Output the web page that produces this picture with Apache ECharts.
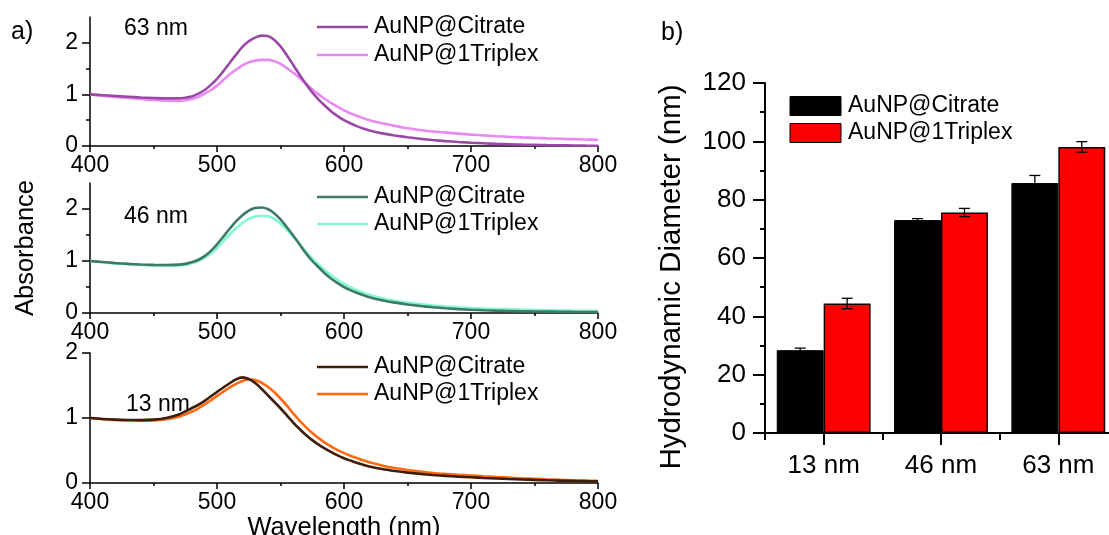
<!DOCTYPE html>
<html><head><meta charset="utf-8">
<script src="https://cdn.jsdelivr.net/npm/echarts@6/dist/echarts.min.js"></script>
<style>html,body{margin:0;padding:0;background:#fff}#c{width:1109px;height:535px}</style>
</head><body><div id="c"></div>
<script>
// ---------- data ----------
const wavelengths = [400,410,420,430,440,450,460,
  470,475,480,485,490,495,500,505,510,515,520,525,530,535,540,545,550,555,560,565,570,575,580,585,590,595,600,605,610,615,620,
  630,640,650,660,670,680,690,700,710,720,730,740,750,760,770,780,790,800];

const citrate63 = [1.00,0.985,0.97,0.955,0.94,0.93,0.922,
  0.922,0.935,0.96,1.01,1.08,1.18,1.30,1.45,1.61,1.77,1.92,2.03,2.10,2.14,2.13,2.06,1.93,1.76,1.57,1.38,1.20,1.04,0.90,0.78,0.67,0.58,0.50,0.44,0.385,0.34,0.30,
  0.245,0.205,0.17,0.14,0.115,0.095,0.078,0.064,0.052,0.042,0.034,0.027,0.022,0.017,0.013,0.01,0.007,0.005];
const triplex63 = [1.00,0.975,0.95,0.93,0.91,0.89,0.877,
  0.875,0.885,0.91,0.95,1.01,1.08,1.17,1.28,1.39,1.48,1.56,1.62,1.655,1.67,1.67,1.645,1.59,1.51,1.42,1.32,1.21,1.10,1.00,0.91,0.83,0.76,0.69,0.635,0.585,0.54,0.50,
  0.44,0.39,0.345,0.31,0.28,0.26,0.24,0.22,0.205,0.19,0.178,0.167,0.157,0.148,0.14,0.133,0.126,0.12];

const citrate46 = [1.00,0.98,0.96,0.945,0.933,0.925,0.922,
  0.93,0.945,0.975,1.02,1.09,1.19,1.32,1.47,1.62,1.76,1.88,1.97,2.02,2.03,2.00,1.92,1.80,1.65,1.49,1.32,1.15,1.00,0.88,0.76,0.66,0.575,0.50,0.44,0.39,0.345,0.305,
  0.245,0.20,0.165,0.135,0.11,0.09,0.075,0.063,0.053,0.045,0.039,0.034,0.03,0.027,0.024,0.021,0.019,0.017];
const triplex46 = [1.00,0.975,0.955,0.94,0.925,0.915,0.91,
  0.915,0.93,0.955,0.995,1.06,1.14,1.25,1.38,1.51,1.63,1.73,1.81,1.855,1.87,1.86,1.81,1.72,1.60,1.47,1.33,1.18,1.05,0.93,0.82,0.72,0.635,0.56,0.495,0.44,0.39,0.35,
  0.285,0.235,0.20,0.17,0.145,0.125,0.11,0.097,0.087,0.078,0.071,0.064,0.058,0.053,0.049,0.045,0.042,0.039];

const citrate13 = [1.00,0.985,0.975,0.97,0.968,0.975,1.00,
  1.055,1.10,1.15,1.20,1.26,1.33,1.40,1.47,1.535,1.595,1.625,1.60,1.54,1.45,1.35,1.25,1.15,1.04,0.93,0.83,0.74,0.66,0.59,0.53,0.475,0.425,0.38,0.345,0.31,0.28,0.255,
  0.215,0.185,0.16,0.14,0.123,0.11,0.098,0.088,0.078,0.07,0.062,0.055,0.048,0.042,0.037,0.033,0.029,0.025];
const triplex13 = [1.00,0.98,0.97,0.962,0.958,0.962,0.98,
  1.02,1.055,1.095,1.145,1.205,1.27,1.34,1.405,1.47,1.525,1.57,1.595,1.585,1.545,1.48,1.40,1.30,1.19,1.07,0.96,0.86,0.77,0.69,0.62,0.56,0.505,0.46,0.42,0.385,0.35,0.32,
  0.27,0.23,0.20,0.175,0.155,0.14,0.127,0.115,0.103,0.092,0.082,0.072,0.063,0.055,0.048,0.042,0.037,0.033];

const sizeLabels = ['13 nm','46 nm','63 nm'];
const dhCitrate = [28.4, 73.0, 85.7];
const dhCitrateErr = [0.7, 0.5, 2.6];
const dhTriplex = [44.4, 75.6, 98.1];
const dhTriplexErr = [1.8, 1.4, 1.8];

const seriesNames = ['AuNP@Citrate','AuNP@1Triplex'];
const panelLabels = ['63 nm','46 nm','13 nm'];
const absLabelTicks = [0,1,2];
const absMinorTicks = [0.5,1.5];

// ---------- styles ----------
const FONT = "'Liberation Sans', Arial, sans-serif";
const panelColors = [['#9a48a6','#e98af4'],['#3f7a68','#7ff9d2'],['#3e1d0a','#ff6a0f']];
const panelSeries = [[citrate63,triplex63],[citrate46,triplex46],[citrate13,triplex13]];
const gridsLeft = [
  {left:90, top:17, width:508, height:129},
  {left:90, top:183, width:508, height:130},
  {left:90, top:353, width:508, height:130}
];
const absMax = [2.5, 2.5, 2];
const axisLine = {show:true, lineStyle:{color:'#000', width:1.5}};

const grid = gridsLeft.map(g => Object.assign({containLabel:false, outerBoundsMode:'none'}, g));
grid.push({left:765, top:83, width:352, height:350, containLabel:false, outerBoundsMode:'none'});

const xAxis = [];
const yAxis = [];
for (let i = 0; i < 3; i++) {
  xAxis.push({
    type:'value', gridIndex:i, min:400, max:800, interval:100,
    axisLine, axisTick:{show:true, length:6, lineStyle:{color:'#000', width:1.5}},
    minorTick:{show:true, splitNumber:2, length:3, lineStyle:{color:'#000', width:1.5}},
    splitLine:{show:false}, minorSplitLine:{show:false},
    axisLabel:{fontSize:23, color:'#000', fontFamily:FONT, margin:8, showMinLabel:true, showMaxLabel:true},
    name: i === 2 ? 'Wavelength (nm)' : '', nameLocation:'middle', nameGap:24,
    nameTextStyle:{fontSize:25.5, color:'#000', fontFamily:FONT}
  });
  yAxis.push({
    type:'value', gridIndex:i, min:0, max:absMax[i], interval:0.5,
    axisLine, axisTick:{show:true, length:8, customValues:absLabelTicks, lineStyle:{color:'#000', width:1.5}},
    axisLabel:{fontSize:23, color:'#000', fontFamily:FONT, margin:12, customValues:absLabelTicks},
    splitLine:{show:false},
    name: i === 1 ? 'Absorbance' : '', nameLocation:'middle', nameGap:51,
    nameTextStyle:{fontSize:25.5, color:'#000', fontFamily:FONT}
  });
}
// bar chart axes
xAxis.push({
  type:'category', gridIndex:3, data:sizeLabels, position:'bottom',
  axisLine:{show:true, lineStyle:{color:'#000', width:2}},
  axisTick:{show:true, alignWithLabel:true, length:12, lineStyle:{color:'#000', width:2}},
  axisLabel:{fontSize:26, color:'#000', fontFamily:FONT, margin:20},
  splitLine:{show:false}
});
xAxis.push({
  type:'category', gridIndex:3, data:sizeLabels, position:'bottom',
  axisLine:{show:false},
  axisTick:{show:true, length:7, lineStyle:{color:'#000', width:2}},
  axisLabel:{show:false}, splitLine:{show:false}
});
yAxis.push({
  type:'value', gridIndex:3, min:0, max:120, interval:20,
  axisLine:{show:true, lineStyle:{color:'#000', width:2}},
  axisTick:{show:true, length:12, lineStyle:{color:'#000', width:2}},
  minorTick:{show:true, splitNumber:2, length:5, lineStyle:{color:'#000', width:2}},
  axisLabel:{fontSize:26, color:'#000', fontFamily:FONT, margin:19},
  splitLine:{show:false}, minorSplitLine:{show:false}
});
// minor ticks for the two upper absorbance axes
for (let i = 0; i < 2; i++) {
  yAxis.push({
    type:'value', gridIndex:i, min:0, max:absMax[i], position:'left',
    axisLine:{show:false},
    axisTick:{show:true, length:4, customValues:absMinorTicks, lineStyle:{color:'#000', width:1.5}},
    axisLabel:{show:false}, splitLine:{show:false}
  });
}

const series = [];
for (let i = 0; i < 3; i++) {
  for (let k = 0; k < 2; k++) {
    series.push({
      type:'line', name:seriesNames[k], xAxisIndex:i, yAxisIndex:i,
      data: wavelengths.map((w, j) => [w, panelSeries[i][k][j]]),
      showSymbol:false, smooth:0.3, z: k === 0 ? 3 : 2,
      lineStyle:{color:panelColors[i][k], width:2.6},
      itemStyle:{color:panelColors[i][k]}
    });
  }
}
series.push({
  type:'bar', name:seriesNames[0], xAxisIndex:3, yAxisIndex:3,
  data:dhCitrate, barWidth:'40%', barGap:'0%',
  itemStyle:{color:'#000', borderColor:'#000', borderWidth:1}
});
series.push({
  type:'bar', name:seriesNames[1], xAxisIndex:3, yAxisIndex:3,
  data:dhTriplex, barWidth:'40%', barGap:'0%',
  itemStyle:{color:'#ff0000', borderColor:'#1a0000', borderWidth:1.5}
});
const errData = [];
dhCitrate.forEach((v, i) => errData.push([i, v, dhCitrateErr[i], -1]));
dhTriplex.forEach((v, i) => errData.push([i, v, dhTriplexErr[i], 1]));
series.push({
  type:'custom', xAxisIndex:3, yAxisIndex:3, z:10,
  encode:{x:0, y:1},
  data:errData,
  renderItem(params, api) {
    const cat = api.value(0), val = api.value(1), err = api.value(2), side = api.value(3);
    const band = api.size([1, 0])[0];
    const c = api.coord([cat, val]);
    const x = c[0] + side * band * 0.2;
    const top = api.coord([cat, val + err])[1];
    const bot = api.coord([cat, val - err])[1];
    const cw = 5.5;
    const st = {stroke:'#000', lineWidth:1.3};
    return {type:'group', children:[
      {type:'line', shape:{x1:x, y1:top, x2:x, y2:bot}, style:st},
      {type:'line', shape:{x1:x - cw, y1:top, x2:x + cw, y2:top}, style:st},
      {type:'line', shape:{x1:x - cw, y1:bot, x2:x + cw, y2:bot}, style:st}
    ]};
  }
});

// ---------- decorations (legends, panel labels) ----------
const graphic = [];
const txt = (text, x, y, size, extra) => Object.assign({
  type:'text', style:{text, x, y, fill:'#000', font: size + 'px ' + FONT, verticalAlign:'middle', align:'left'}
}, extra || {});
graphic.push(txt('a)', 11, 32, 25));
graphic.push(txt('b)', 661, 33, 25));
const panelLabelY = [29, 217, 405];
const panelLabelX = [124, 124, 126];
const legendY = [[27, 55], [197, 224], [367, 394]];
for (let i = 0; i < 3; i++) {
  graphic.push(txt(panelLabels[i], panelLabelX[i], panelLabelY[i], 23));
  for (let k = 0; k < 2; k++) {
    const y = legendY[i][k];
    graphic.push({type:'line', shape:{x1:317, y1:y, x2:368, y2:y}, style:{stroke:panelColors[i][k], lineWidth:2.6}});
    graphic.push(txt(seriesNames[k], 374, y, 23));
  }
}
const barLegendY = [106, 133];
const barColors = ['#000', '#ff0000'];
for (let k = 0; k < 2; k++) {
  graphic.push({type:'rect', shape:{x:790, y:barLegendY[k] - 9.5, width:51, height:19}, style:{fill:barColors[k], stroke:'#000', lineWidth:1}});
  graphic.push(txt(seriesNames[k], 848, barLegendY[k], 23));
}
graphic.push({
  type:'text', x:672, y:277, rotation:Math.PI / 2,
  style:{text:'Hydrodynamic Diameter (nm)', x:0, y:0, fill:'#000', font:'29.5px ' + FONT, align:'center', verticalAlign:'middle'}
});

const chart = echarts.init(document.getElementById('c'), null, {renderer:'canvas'});
chart.setOption({
  animation:false, backgroundColor:'#fff',
  grid, xAxis, yAxis, series, graphic
});
</script>
</body></html>
